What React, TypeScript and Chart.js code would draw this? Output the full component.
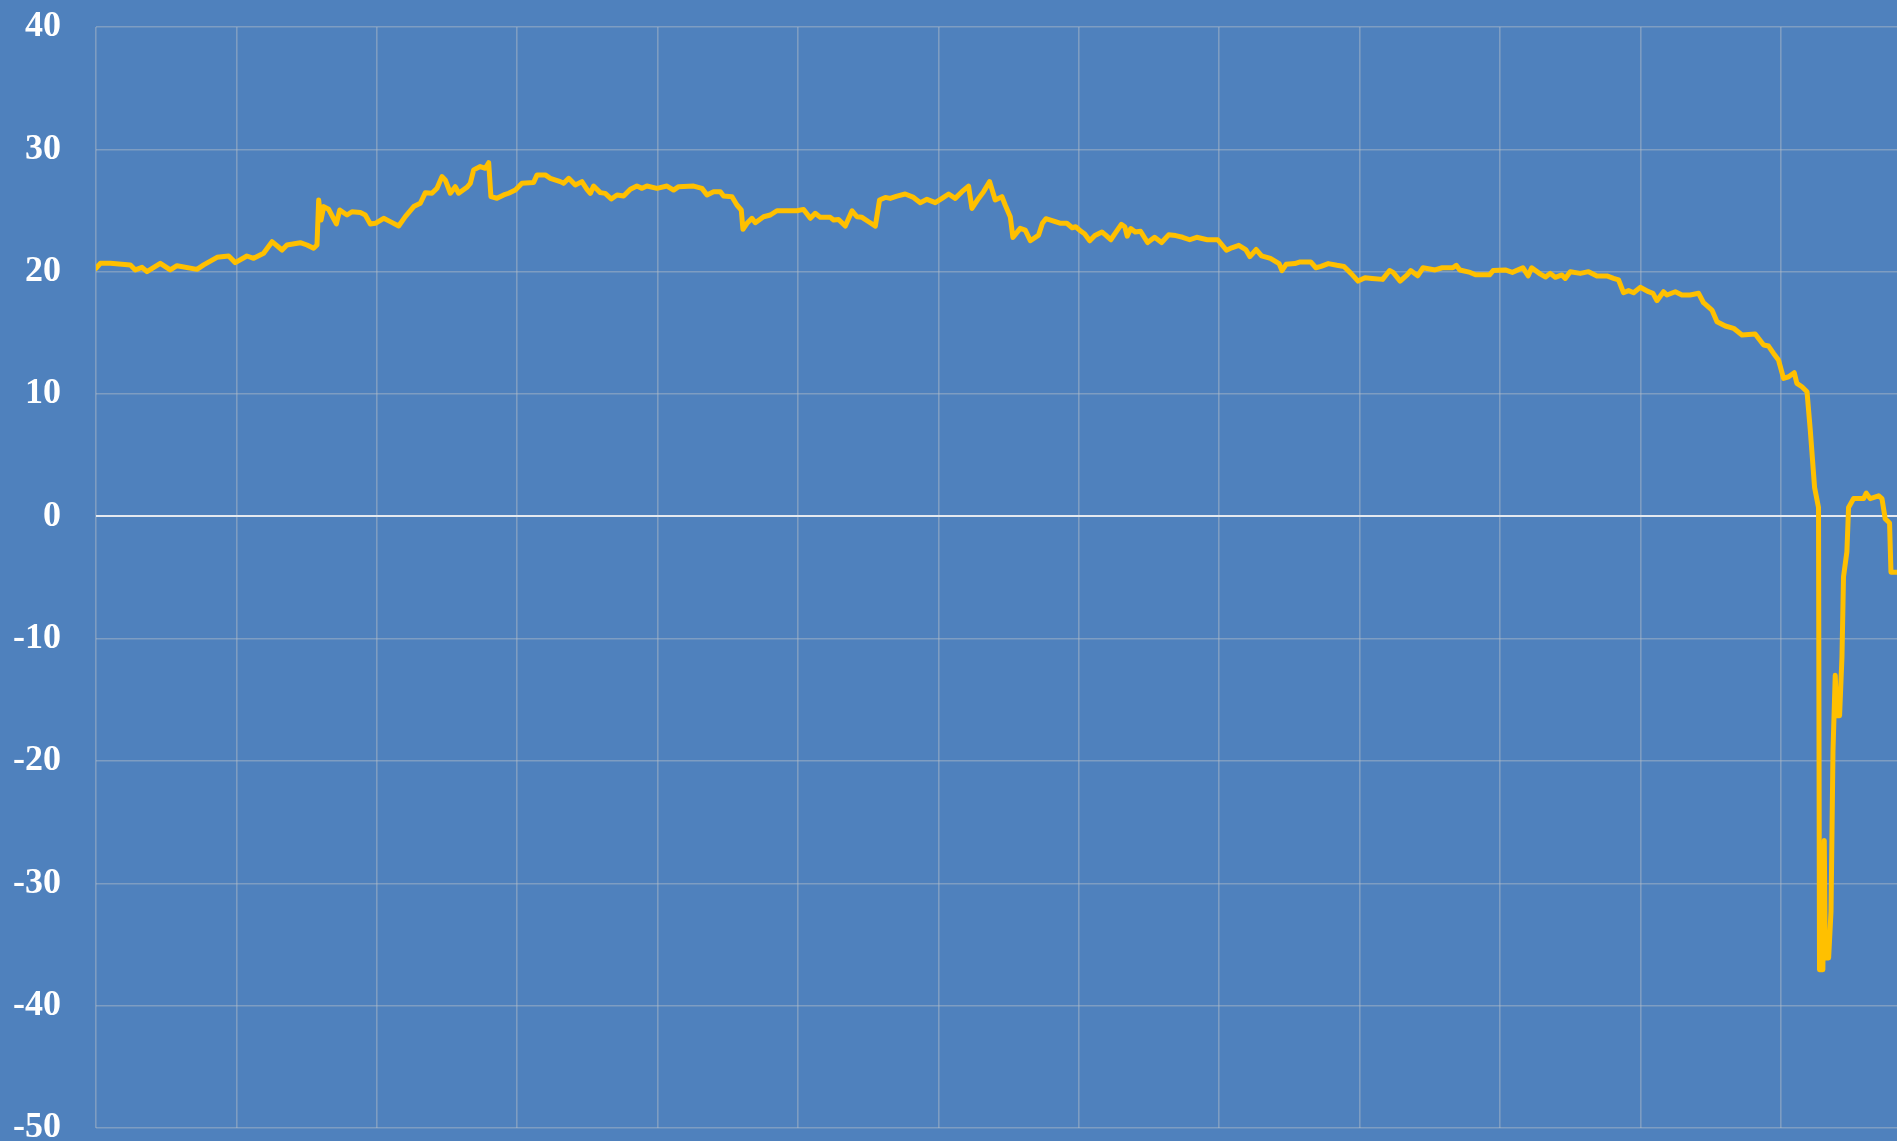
import React, { useEffect, useRef } from "react";
import { Chart, registerables } from "chart.js";

Chart.register(...registerables);

// Horizontal position of each reading (one vertical grid line every 100 units)
const xPositions = [
  0, 3.1, 10.2, 24.5, 28.0, 32.8, 36.3, 45.8, 52.9, 57.7, 71.9, 76.7, 86.2, 94.5, 99.2, 107.5, 112.3, 119.4,
  125.4, 132.5, 136.0, 145.5, 150.3, 155.0, 157.4, 158.6, 160.3, 162.2, 165.7, 171.2, 173.6, 178.8, 182.3,
  188.3, 191.8, 195.4, 199.0, 204.9, 209.6, 215.6, 220.3, 226.3, 231.0, 234.6, 239.3, 242.9, 246.4, 248.8,
  252.4, 255.9, 258.3, 264.2, 266.6, 269.0, 273.7, 277.3, 279.7, 281.3, 285.6, 290.4, 293.9, 298.7, 303.4,
  311.7, 314.1, 320.0, 323.6, 330.7, 333.1, 336.7,
  341.4, 346.1, 349.7, 352.1, 354.4, 359.2, 362.7, 367.0, 371.1, 375.8, 380.6, 385.3, 388.9, 392.4, 399.6,
  406.7, 411.4, 415.0, 425.7, 431.6, 435.2, 439.9, 444.7, 447.0, 453.0, 456.5, 459.6, 460.8, 463.7, 467.2,
  469.6, 475.5, 480.3, 485.0, 499.3, 504.0, 508.8, 512.3, 515.9, 523.0, 525.4, 528.9, 533.7, 538.5, 542.0,
  545.6, 550.3, 555.1, 558.1, 562.2, 565.7, 570.5, 576.4, 582.3, 587.1, 591.9, 597.8, 602.6, 607.3, 612.0,
  616.8, 621.5, 623.9, 628.6, 632.2, 636.5, 640.5, 645.3, 647.6, 651.2, 653.1, 658.3, 661.9, 665.5, 671.4,
  674.1, 676.6, 681.6, 686.6, 691.5, 695.3, 697.8, 701.6, 704.1, 707.8, 711.5, 716.5, 719.0, 722.8, 726.5,
  730.3, 732.8, 734.5, 737.0, 740.2, 744.0, 749.0, 754.0, 759.0, 764.0, 769.0, 774.0, 779.0, 784.0, 791.5,
  799.0, 805.2, 809.0, 814.0, 818.9, 821.9, 826.4, 830.2, 836.5, 842.7, 844.7, 847.7, 853.9, 857.7, 865.2,
  868.9, 872.6, 877.7, 883.9, 888.9, 893.9, 898.9, 903.9, 908.9, 916.4, 921.4, 923.9, 928.9, 933.9, 936.4,
  941.4, 945.2, 953.8, 958.9, 966.4, 968.9, 971.4, 978.8, 982.6, 992.6, 995.1, 1003.8, 1008.8, 1016.3, 1020.1,
  1022.6, 1028.8, 1032.5,
  1035.8, 1039.4, 1044.1, 1046.5, 1050.1, 1057.2, 1063.1, 1069.1, 1076.2, 1080.9, 1084.5, 1088.0, 1091.6,
  1095.2, 1099.9, 1105.8, 1109.0, 1111.8, 1116.5, 1118.9, 1124.9, 1129.6, 1135.5, 1141.5, 1145.0, 1151.0,
  1154.6, 1160.5, 1166.4, 1172.4, 1181.8, 1187.8, 1191.3, 1194.9, 1198.4, 1202.0, 1205.6, 1209.6, 1211.5,
  1215.1, 1218.7,
  1221.0, 1224.1, 1226.9, 1227.6, 1230.0, 1231.0, 1231.7, 1234.1, 1235.8, 1237.2, 1238.8, 1240.0, 1241.9,
  1243.6, 1244.7, 1247.1, 1248.3, 1251.9, 1259.0, 1260.9, 1263.7, 1269.7, 1272.1, 1274.4, 1277.5, 1278.5,
  1283.6,
];

const values = [
  20.27, 20.68, 20.68, 20.55, 20.14, 20.35, 20.0, 20.68, 20.14, 20.49, 20.19, 20.55, 21.17, 21.28, 20.74, 21.28,
  21.09, 21.5, 22.45, 21.77, 22.18, 22.37, 22.18, 21.91, 22.18, 25.86, 24.23, 25.32, 25.1, 23.9, 25.04, 24.63,
  24.9, 24.83, 24.63, 23.9, 23.95, 24.36, 24.09, 23.73, 24.5, 25.32, 25.59, 26.46, 26.41, 26.82, 27.77, 27.5,
  26.41, 26.95, 26.41, 26.9, 27.22, 28.32, 28.59, 28.45, 28.91, 26.13, 26.0, 26.27, 26.41, 26.68, 27.22,
  27.28, 27.91, 27.91, 27.63, 27.36, 27.22, 27.63,
  27.08, 27.36, 26.73, 26.4, 27.0, 26.46, 26.4, 25.94, 26.27, 26.18, 26.73, 27.0, 26.81, 27.0, 26.81,
  27.0, 26.67, 26.95, 27.0, 26.81, 26.27, 26.54, 26.54, 26.18, 26.13, 25.45, 25.04, 23.46, 23.95, 24.36,
  24.0, 24.49, 24.63, 24.98, 24.98, 25.09, 24.36, 24.77, 24.44, 24.44, 24.22, 24.27, 23.73, 24.98, 24.49,
  24.44, 24.08, 23.73, 25.86, 26.07, 25.99, 26.18, 26.35, 26.07, 25.64, 25.91, 25.64, 25.99, 26.35, 25.99,
  26.54, 27.0, 25.17, 25.99, 26.54, 27.36, 25.86, 26.13, 25.45, 24.49, 22.8, 23.54, 23.4, 22.53, 22.99,
  23.96, 24.33, 24.16, 23.96, 23.96, 23.59, 23.67, 23.3, 23.1, 22.52, 22.95, 23.24, 23.01, 22.61, 23.24,
  23.87, 23.67, 22.9, 23.53, 23.24, 23.3, 22.38, 22.81, 22.38, 23.01, 22.95, 22.81, 22.61, 22.81, 22.61,
  22.61, 21.75, 21.95, 22.15, 21.81, 21.23, 21.81, 21.29, 21.09, 20.66, 20.09, 20.6, 20.66, 20.8, 20.8,
  20.32, 20.43, 20.66, 20.52, 20.43, 19.86, 19.23, 19.51, 19.45, 19.37, 20.09, 19.94, 19.23, 19.74, 20.09,
  19.66, 20.32, 20.14, 20.32, 20.32, 20.52, 20.14, 19.94, 19.74, 19.74, 20.09, 20.14, 19.94, 20.32, 19.66,
  20.32, 19.8, 19.57,
  19.86, 19.54, 19.73, 19.45, 20.0, 19.86, 20.0, 19.65, 19.65, 19.45, 19.32, 18.28, 18.45,
  18.28, 18.72, 18.36, 18.23, 17.63, 18.36, 18.09, 18.36, 18.09, 18.09, 18.23, 17.46, 16.86,
  15.91, 15.56, 15.37, 14.82, 14.9, 14.0, 13.92, 13.32, 12.78, 11.28, 11.41, 11.74, 10.87,
  10.59, 10.19,
  7.1, 2.36, 0.72, -37.07, -37.07, -26.5, -36.1, -36.1, -32.3, -19.2, -13.0, -16.3, -16.3,
  -11.5, -4.94, -2.9, 0.72, 1.45, 1.45, 1.9, 1.45, 1.68, 1.45, -0.2, -0.55, -4.57,
  -4.57,
];

const yMin = -50;
const yMax = 40;
const yStep = 10;
const xMax = 1282.8;
const xGridStep = 100;

const BG = "#4F81BD";
const GRID = "rgba(185,190,200,0.45)";
const ZERO = "#e4e9f0";

export default function App() {
  const ref = useRef<HTMLCanvasElement>(null);

  useEffect(() => {
    const canvas = ref.current;
    if (!canvas) return;
    const chart = new Chart(canvas, {
      type: "line",
      data: {
        datasets: [
          {
            data: xPositions.map((x, i) => ({ x, y: values[i] })),
            borderColor: "#FFC000",
            borderWidth: 5,
            pointRadius: 0,
            tension: 0,
            fill: false,
            borderJoinStyle: "round",
            borderCapStyle: "round",
          },
        ],
      },
      options: {
        responsive: false,
        animation: false,
        layout: { padding: { top: 27, bottom: 72, left: 0, right: 0 } },
        plugins: { legend: { display: false }, tooltip: { enabled: false } },
        scales: {
          x: {
            type: "linear",
            min: 0,
            max: xMax,
            ticks: { display: false, stepSize: xGridStep, includeBounds: false },
            grid: { color: GRID, lineWidth: 1.6, drawTicks: false },
            border: { display: false },
            afterBuildTicks: (s: any) => {
              const t: any[] = [];
              for (let v = 0; v <= xMax; v += xGridStep) t.push({ value: v });
              s.ticks = t;
            },
            afterFit: (s: any) => {
              s.paddingLeft = 0;
              s.paddingRight = 0;
            },
          },
          y: {
            min: yMin,
            max: yMax,
            ticks: {
              stepSize: yStep,
              color: "#ffffff",
              padding: 35,
              font: { family: "'Liberation Serif', 'Times New Roman', serif", size: 36, weight: "bold" },
            },
            grid: {
              color: (c: any) => (c.tick && c.tick.value === 0 ? ZERO : GRID),
              lineWidth: (c: any) => (c.tick && c.tick.value === 0 ? 2 : 1.6),
              drawTicks: false,
            },
            border: { display: false },
            afterFit: (s: any) => {
              s.width = 96;
              s.paddingTop = 0;
              s.paddingBottom = 0;
            },
          },
        },
      },
    } as any);
    return () => chart.destroy();
  }, []);

  return (
    <div
      style={{
        position: "fixed",
        left: 0,
        top: 0,
        width: 1897,
        height: 1141,
        overflow: "hidden",
        background: BG,
      }}
    >
      <canvas ref={ref} width={1897} height={1200} style={{ display: "block" }} />
    </div>
  );
}
